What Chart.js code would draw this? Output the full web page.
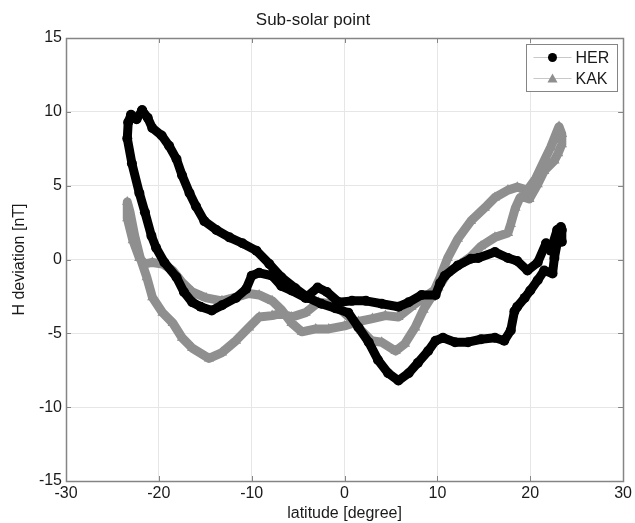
<!DOCTYPE html>
<html lang="en">
<head>
  <meta charset="UTF-8">
  <title>Sub-solar point</title>
  <style>
    html, body { margin: 0; padding: 0; background: #fff; }
    #wrap { width: 635px; height: 523px; }
  </style>
</head>
<body>
  <div id="wrap"><canvas id="subSolarChart" width="635" height="523"></canvas></div>
  <script src="https://cdn.jsdelivr.net/npm/chart.js"></script>
  <script>
    // HER: H deviation [nT] against sub-solar latitude [degree], one yearly loop
    const herLat = [
      -21.8, -21.2, -20.7, -19.7, -18.9, -18.1, -17.5, -16.7, -16.0, -15.1,
      -13.8, -12.4, -11.0, -9.5, -8.1, -6.8, -5.3, -3.9, -2.5, -1.0,
      0.4, 1.5, 2.6, 3.6, 4.7, 5.8, 6.9, 7.9, 9.0, 9.8,
      10.6, 11.9, 13.3, 14.7, 16.2, 17.2, 17.9, 18.3, 18.6, 19.4,
      20.0, 20.8, 21.5, 22.4, 22.6, 22.9, 23.3, 23.4, 23.4, 23.3,
      22.9, 22.2, 21.7, 20.8, 19.7, 18.6, 17.6, 16.2, 14.4, 13.6,
      12.2, 10.8, 10.3, 9.8, 8.3, 6.9, 5.8, 4.0, 2.3, 0.8,
      -0.6, -1.9, -2.9, -4.2, -5.7, -6.8, -7.8, -9.2, -10.0, -10.6,
      -11.7, -13.2, -14.3, -15.5, -16.4, -17.3, -18.1, -19.4, -20.3, -20.8,
      -21.5, -22.1, -22.9, -23.4, -23.3, -23.0, -22.4, -21.8
    ];
    const herDev = [
      10.1, 9.6, 8.9, 8.4, 7.7, 6.8, 5.7, 4.5, 3.6, 2.6,
      2.0, 1.5, 1.1, 0.6, -0.3, -1.2, -1.95, -2.6, -3.0, -3.3,
      -3.6, -4.6, -5.6, -6.8, -7.7, -8.2, -7.7, -7.0, -6.2, -5.5,
      -5.3, -5.6, -5.6, -5.4, -5.3, -5.5, -4.8, -3.5, -3.2, -2.6,
      -2.1, -1.4, -0.75, -0.95, 0.1, 1.1, 1.95, 1.2, 2.0, 2.2,
      2.0, 0.6, 1.1, -0.2, -0.75, -0.1, 0.1, 0.5, 0.1, 0.05,
      -0.4, -1.1, -1.6, -2.4, -2.4, -2.9, -3.2, -3.0, -2.8, -2.8,
      -2.9, -2.2, -1.9, -2.6, -2.1, -1.8, -1.1, -0.9, -1.1, -2.0,
      -2.6, -3.1, -3.45, -3.2, -2.9, -2.2, -1.2, -0.2, 0.8, 1.6,
      3.2, 4.5, 6.5, 8.2, 9.3, 9.8, 9.5, 10.1
    ];

    // KAK: same quantity for the second station
    const kakLat = [
      23.4, 23.4, 23.0, 22.6, 21.5, 20.8, 19.9, 19.4, 18.9, 18.4,
      17.9, 17.6, 16.2, 14.7, 13.6, 12.5, 11.1, 10.1, 8.7, 7.2,
      5.8, 4.4, 3.0, 1.5, 0.0, -1.7, -3.1, -4.6, -5.7, -6.8,
      -7.8, -9.2, -10.3, -11.4, -13.2, -14.9, -16.4, -17.5, -18.5, -19.6,
      -20.7, -21.5, -22.1, -22.8, -23.4, -23.4, -23.1, -22.6, -22.0, -21.3,
      -20.7, -19.6, -18.5, -17.5, -16.4, -14.6, -13.2, -11.7, -10.3, -9.2,
      -7.8, -6.8, -5.7, -4.2, -2.8, -1.4, -0.3, 0.8, 1.8, 2.9,
      4.0, 5.5, 6.5, 7.6, 8.5, 9.3, 10.3, 11.1, 12.2, 13.6,
      15.1, 16.2, 17.6, 18.6, 19.7, 20.6, 21.5, 22.2, 22.9, 23.1,
      23.4
    ];
    const kakDev = [
      8.5, 7.8, 7.2, 6.7, 6.0, 5.1, 4.1, 4.2, 4.2, 3.5,
      2.4, 1.8, 1.5, 0.9, 0.2, -0.3, -0.9, -1.9, -2.5, -3.2,
      -3.9, -3.8, -4.0, -4.2, -4.5, -4.7, -4.7, -4.9, -4.3, -3.4,
      -2.8, -2.4, -2.3, -2.5, -2.8, -2.6, -2.2, -1.55, -0.75, -0.3,
      -0.2, -0.3, 0.1, 1.3, 2.8, 3.9, 3.2, 1.6, 0.1, -1.2,
      -2.55, -3.6, -4.3, -5.3, -6.0, -6.7, -6.3, -5.5, -4.6, -3.9,
      -3.8, -3.65, -3.9, -3.6, -2.9, -3.0, -3.45, -4.1, -4.8, -5.5,
      -5.6, -6.2, -5.7, -4.6, -3.4, -2.6, -1.2, 0.1, 1.4, 2.6,
      3.5, 4.2, 4.7, 4.9, 4.7, 5.5, 6.7, 7.6, 8.7, 9.0,
      8.5
    ];

    const xTicks = [-30, -20, -10, 0, 10, 20, 30];
    const yTicks = [-15, -10, -5, 0, 5, 10, 15];

    const herColor = '#000000';
    const kakColor = '#8f8f8f';
    const textColor = '#1a1a1a';
    const fontFamily = "'Liberation Sans', Arial, Helvetica, sans-serif";

    Chart.defaults.font.family = fontFamily;
    Chart.defaults.color = textColor;

    function toPoints(xs, ys) {
      return xs.map((x, i) => ({ x: x, y: ys[i] }));
    }

    // axes box with inward tick marks, drawn over the data like a matlab figure
    const axesBox = {
      id: 'axesBox',
      afterDatasetsDraw(chart) {
        const { ctx, chartArea: a, scales } = chart;
        const len = 5;
        ctx.save();
        ctx.strokeStyle = '#858585';
        ctx.lineWidth = 1;
        ctx.beginPath();
        xTicks.forEach(v => {
          const px = Math.round(scales.x.getPixelForValue(v)) + 0.5;
          ctx.moveTo(px, a.bottom); ctx.lineTo(px, a.bottom - len);
          ctx.moveTo(px, a.top); ctx.lineTo(px, a.top + len);
        });
        yTicks.forEach(v => {
          const py = Math.round(scales.y.getPixelForValue(v)) + 0.5;
          ctx.moveTo(a.left, py); ctx.lineTo(a.left + len, py);
          ctx.moveTo(a.right, py); ctx.lineTo(a.right - len, py);
        });
        ctx.stroke();
        ctx.lineWidth = 1.5;
        ctx.strokeRect(Math.round(a.left) + 0.5, Math.round(a.top) + 0.5,
          Math.round(a.right - a.left), Math.round(a.bottom - a.top));
        ctx.restore();
      }
    };

    // boxed legend in the upper right corner, line sample with marker
    const boxLegend = {
      id: 'boxLegend',
      afterDraw(chart) {
        const { ctx, chartArea: a } = chart;
        const w = 91, h = 47;
        const x0 = Math.round(a.right - 6 - w) + 0.5;
        const y0 = Math.round(a.top + 6) + 0.5;
        ctx.save();
        ctx.fillStyle = '#ffffff';
        ctx.fillRect(x0, y0, w, h);
        ctx.strokeStyle = '#858585';
        ctx.lineWidth = 1;
        ctx.strokeRect(x0, y0, w, h);
        chart.data.datasets.forEach((ds, i) => {
          const cy = y0 + 13 + i * 21;
          ctx.strokeStyle = '#c8c8c8';
          ctx.lineWidth = 1;
          ctx.beginPath();
          ctx.moveTo(x0 + 7, cy);
          ctx.lineTo(x0 + 45, cy);
          ctx.stroke();
          ctx.fillStyle = ds.pointBackgroundColor;
          ctx.beginPath();
          if (ds.pointStyle === 'triangle') {
            ctx.moveTo(x0 + 26, cy - 5);
            ctx.lineTo(x0 + 31, cy + 4);
            ctx.lineTo(x0 + 21, cy + 4);
            ctx.closePath();
          } else {
            ctx.arc(x0 + 26, cy, 4.5, 0, Math.PI * 2);
          }
          ctx.fill();
          ctx.fillStyle = textColor;
          ctx.font = '16px ' + fontFamily;
          ctx.textBaseline = 'middle';
          ctx.fillText(ds.label, x0 + 49, cy + 1);
        });
        ctx.restore();
      }
    };

    const ctx = document.getElementById('subSolarChart').getContext('2d');
    new Chart(ctx, {
      type: 'scatter',
      data: {
        datasets: [
          {
            label: 'HER',
            data: toPoints(herLat, herDev),
            showLine: true,
            borderColor: herColor,
            borderWidth: 9,
            borderJoinStyle: 'round',
            borderCapStyle: 'round',
            pointStyle: 'circle',
            pointRadius: 5,
            pointBorderWidth: 0,
            pointBackgroundColor: herColor,
            tension: 0
          },
          {
            label: 'KAK',
            data: toPoints(kakLat, kakDev),
            showLine: true,
            borderColor: kakColor,
            borderWidth: 9,
            borderJoinStyle: 'round',
            borderCapStyle: 'round',
            pointStyle: 'triangle',
            pointRadius: 6,
            pointBorderWidth: 0,
            pointBackgroundColor: kakColor,
            tension: 0
          }
        ]
      },
      options: {
        responsive: false,
        animation: false,
        devicePixelRatio: 1,
        layout: { padding: { left: 0, right: 9, top: 0, bottom: 0 } },
        plugins: {
          legend: { display: false },
          tooltip: { enabled: false },
          title: {
            display: true,
            text: 'Sub-solar point',
            color: textColor,
            font: { size: 17, weight: 'normal' },
            padding: { top: 10, bottom: 7.6 }
          }
        },
        scales: {
          x: {
            type: 'linear',
            min: -30,
            max: 30,
            afterBuildTicks: s => { s.ticks = xTicks.map(v => ({ value: v })); },
            afterFit: s => { s.height = 42; },
            ticks: { font: { size: 16 }, color: textColor, padding: 3, maxRotation: 0 },
            grid: { color: '#e6e6e6', drawTicks: false },
            border: { display: false },
            title: {
              display: true,
              text: 'latitude [degree]',
              color: textColor,
              font: { size: 16 },
              padding: { top: 0, bottom: 0 }
            }
          },
          y: {
            type: 'linear',
            min: -15,
            max: 15,
            afterBuildTicks: s => { s.ticks = yTicks.map(v => ({ value: v })); },
            afterFit: s => { s.width = 66; },
            ticks: { font: { size: 16 }, color: textColor, padding: 4 },
            grid: { color: '#e6e6e6', drawTicks: false },
            border: { display: false },
            title: {
              display: true,
              text: 'H deviation [nT]',
              color: textColor,
              font: { size: 16 },
              padding: { top: 10, bottom: 0 }
            }
          }
        }
      },
      plugins: [axesBox, boxLegend]
    });
  </script>
</body>
</html>
